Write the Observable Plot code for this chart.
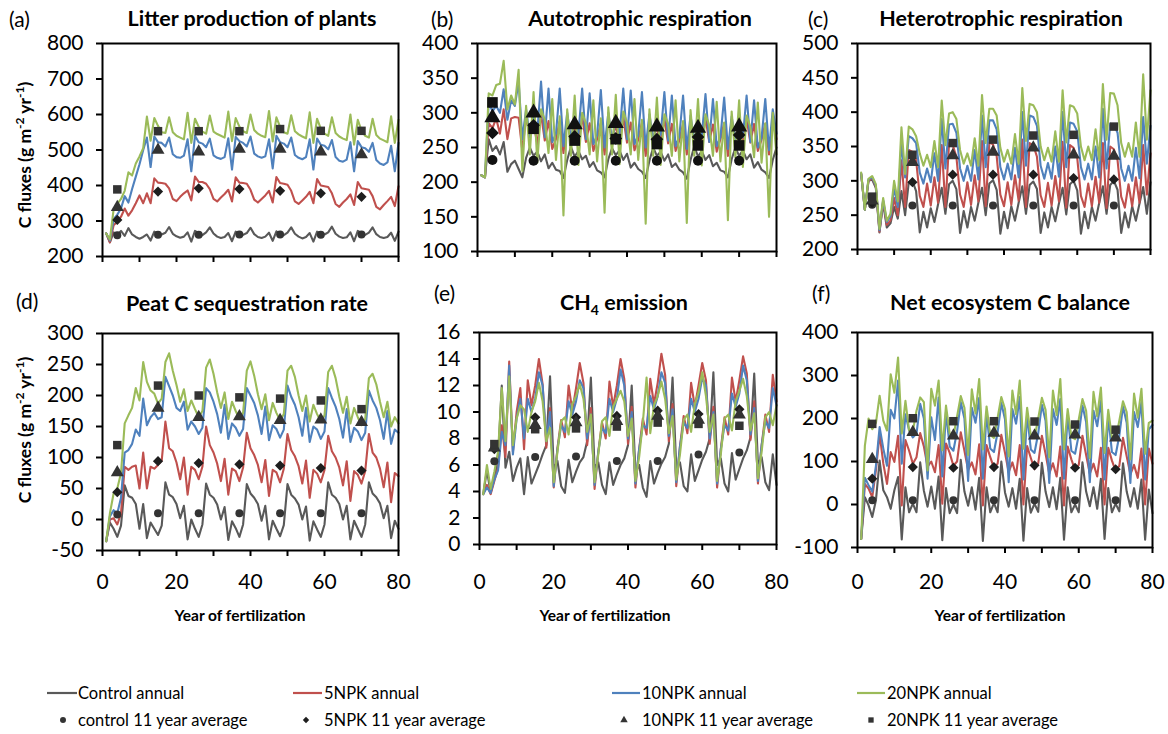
<!DOCTYPE html>
<html>
<head>
<meta charset="utf-8">
<script src="https://cdn.jsdelivr.net/npm/d3@7"></script>
<script src="https://cdn.jsdelivr.net/npm/@observablehq/plot@0.6"></script>
<style>
  body { margin: 0; background: #fff; }
  #fig { position: relative; width: 1168px; height: 734px; overflow: hidden; background: #fff; font-family: Lato, sans-serif; color: #000; }
  #fig svg { position: absolute; }
</style>
</head>
<body>
<div id="fig"></div>
<script>
// ---------- categories / ticks ----------
const years = d3.range(1, 81);
const avgYears = [4, 15, 26, 37, 48, 59, 70];
const xTicks = [0, 10, 20, 30, 40, 50, 60, 70, 80];
const seriesNames = ["Control annual", "5NPK annual", "10NPK annual", "20NPK annual"];
const avgNames = ["control 11 year average", "5NPK 11 year average", "10NPK 11 year average", "20NPK 11 year average"];

// ---------- (a) Litter production of plants ----------
const aTicks = [200, 300, 400, 500, 600, 700, 800];
const aControl = [265,
240,268,262,272,258,280,262,255,250,255,262,
245,270,264,262,267,283,264,257,253,256,268,
242,272,266,260,268,282,265,256,252,255,266,
243,270,265,261,266,281,263,255,252,256,267,
244,271,264,260,267,282,264,256,251,255,266,
242,270,265,262,268,284,264,256,252,254,268,
243,272,266,261,267,282,263,255,252,255,267,
244,270];
const a5NPK = [265,
240,288,298,312,335,315,330,350,372,350,378,
350,420,408,407,405,392,362,356,368,378,386,
358,425,410,410,405,390,362,355,366,376,388,
355,423,408,407,405,388,360,352,362,372,385,
352,424,407,405,402,385,355,348,358,368,382,
350,418,400,398,396,378,348,340,352,362,375,
345,410,392,390,388,370,340,333,345,356,368,
342,398];
const a10NPK = [265,
245,305,318,335,370,352,390,425,460,500,535,
452,538,522,520,510,535,488,480,478,484,530,
440,540,522,518,508,532,485,478,475,480,533,
445,537,525,520,510,538,490,482,478,482,530,
448,540,522,518,508,535,486,478,474,480,530,
445,532,515,512,502,528,480,470,467,473,522,
440,525,508,505,495,520,472,462,458,465,512,
440,520];
const a20NPK = [265,
248,332,348,362,385,437,428,462,482,505,594,
526,590,568,550,548,592,550,540,535,530,605,
520,588,565,552,546,597,552,545,540,535,608,
525,590,566,553,548,600,556,546,540,536,610,
524,592,565,550,546,598,553,544,538,533,606,
520,588,560,546,540,592,548,538,532,528,600,
515,585,555,540,535,588,542,532,527,522,595,
520,585];
const aAvgControl = [260, 261, 261, 262, 262, 261, 262];
const aAvg5 = [303, 383, 392, 390, 385, 378, 368];
const aAvg10 = [339, 500, 495, 503, 503, 495, 487];
const aAvg20 = [389, 553, 553, 553, 559, 554, 554];

// ---------- (b) Autotrophic respiration ----------
const bTicks = [100, 150, 200, 250, 300, 350, 400];
const bControl = [210,
207,262,245,252,240,258,215,226,231,219,207,
235,250,238,244,230,240,220,228,218,216,206,
232,251,237,245,233,238,222,229,217,214,207,
233,249,239,246,232,241,221,228,219,215,206,
231,250,238,244,231,240,222,227,218,214,205,
232,252,237,245,232,239,223,228,217,215,207,
233,250,238,246,233,240,221,229,218,214,206,
232,250];
const b5NPK = [210,
207,285,278,292,270,305,262,292,294,293,245,
295,265,285,255,298,260,288,248,262,288,242,
290,262,282,256,295,258,285,245,262,285,240,
292,260,283,254,294,257,286,246,261,286,238,
290,262,280,255,292,256,284,245,260,284,240,
288,260,282,254,293,258,283,244,262,285,238,
290,262,281,255,292,257,284,245,261,284,240,
290,262];
const b10NPK = [210,
207,315,302,310,300,334,290,318,310,345,262,
305,265,298,272,345,265,335,258,270,335,252,
300,262,292,270,335,262,328,255,268,333,250,
300,260,290,268,335,262,332,255,268,330,250,
298,260,290,268,330,260,325,252,266,325,248,
296,258,288,266,327,258,320,252,265,322,248,
295,258,288,265,325,258,318,250,264,320,246,
305,270];
const b20NPK = [210,
207,328,325,340,342,375,305,325,312,362,216,
310,240,330,228,305,290,242,320,232,295,152,
305,238,325,225,300,285,240,318,230,292,156,
308,240,326,226,302,286,240,320,232,290,140,
305,238,322,225,298,284,238,318,230,288,141,
304,238,320,224,298,282,238,316,230,286,145,
302,236,318,222,296,280,236,315,228,285,150,
300,240];
const bAvgControl = [232, 231, 231, 231, 231, 231, 231];
const bAvg5 = [271, 282, 266, 263, 262, 265, 268];
const bAvg10 = [293, 300, 283, 285, 280, 278, 280];
const bAvg20 = [315, 277, 260, 262, 255, 253, 253];

// ---------- (c) Heterotrophic respiration ----------
const cTicks = [200, 250, 300, 350, 400, 450, 500];
const cControl = [310,
258,300,302,290,225,268,232,238,262,245,285,
250,298,300,285,225,255,232,260,240,266,290,
252,295,300,288,224,256,232,262,242,268,290,
250,296,301,287,223,255,231,263,242,268,292,
252,294,299,288,224,254,232,262,241,267,290,
251,295,300,286,223,255,231,262,242,268,292,
252,294,300,287,224,254,232,263,242,267,291,
252,298];
const c5NPK = [310,
258,300,304,292,226,270,236,242,275,250,330,
262,345,342,330,278,262,296,264,305,268,352,
262,355,352,335,280,262,298,265,308,270,358,
263,356,353,336,280,263,298,265,308,271,360,
262,355,352,335,279,262,297,264,307,270,357,
261,352,348,333,278,262,296,263,306,268,355,
260,350,346,330,277,261,295,263,305,268,352,
280,340];
const c10NPK = [311,
258,302,305,293,228,272,240,248,290,262,355,
305,365,362,355,312,296,318,298,340,300,390,
318,382,383,370,318,300,322,300,345,302,395,
320,388,388,375,320,302,325,302,348,305,400,
322,395,393,380,322,303,326,303,350,306,400,
320,385,383,372,320,302,325,302,350,305,405,
318,383,382,370,318,300,322,300,348,304,393,
325,380];
const c20NPK = [312,
258,303,307,295,230,275,242,252,300,270,378,
310,379,375,365,340,322,338,320,358,320,417,
352,398,400,390,345,325,340,322,362,322,425,
355,405,405,395,348,328,345,325,368,325,435,
358,412,410,400,350,330,348,328,372,328,432,
356,410,408,398,350,330,350,330,375,330,441,
360,428,427,410,355,335,355,335,385,335,455,
360,432];
const cAvgControl = [265, 264, 264, 264, 264, 264, 264];
const cAvg5 = [268, 298, 309, 309, 309, 304, 302];
const cAvg10 = [271, 327, 337, 342, 348, 338, 336];
const cAvg20 = [277, 338, 355, 360, 366, 367, 379];

// ---------- (d) Peat C sequestration rate ----------
const dTicks = [-50, 0, 50, 100, 150, 200, 250, 300];
const dControl = [-35,
-5,-15,-28,-10,55,38,35,25,-15,25,-30,
-5,-15,-25,-10,60,40,36,25,2,22,-32,
0,-15,-28,-8,58,40,35,24,0,20,-33,
-3,-14,-28,-8,57,42,35,25,-2,22,-32,
-2,-15,-27,-9,57,40,34,24,0,21,-34,
-3,-16,-28,-8,60,40,35,25,0,22,-32,
-2,-15,-28,-8,60,42,36,26,2,22,-30,
-2,-15];
const d5NPK = [-35,
0,2,-8,10,85,80,85,87,50,108,50,
85,82,88,95,158,115,110,92,65,100,40,
85,80,65,85,150,120,108,90,62,98,40,
82,78,62,84,140,115,104,88,60,96,38,
80,76,60,82,138,112,102,86,58,95,35,
80,74,60,80,135,110,100,84,55,94,30,
78,72,58,78,138,108,100,82,52,92,28,
75,70];
const d10NPK = [-35,
5,15,10,35,108,112,122,145,135,195,152,
165,172,162,165,230,215,200,180,175,190,145,
158,150,138,148,212,205,190,170,140,185,130,
155,148,135,146,212,200,188,168,138,182,128,
152,146,132,145,216,198,185,165,135,180,125,
150,145,130,142,212,196,182,162,132,178,125,
148,142,128,140,208,192,180,160,130,175,122,
145,140];
const d20NPK = [-35,
10,42,50,75,155,168,180,212,192,254,222,
208,203,187,195,254,268,240,217,190,210,175,
192,178,165,175,245,258,235,205,180,205,162,
190,175,162,172,240,255,232,202,178,202,160,
188,172,160,170,240,248,230,200,175,200,158,
185,170,158,168,238,248,228,198,172,198,155,
180,165,152,162,228,235,218,190,165,190,150,
165,155];
const dAvgControl = [8, 10, 10, 10, 10, 10, 10];
const dAvg5 = [44, 94, 91, 89, 87, 83, 79];
const dAvg10 = [76, 180, 165, 166, 160, 161, 157];
const dAvg20 = [120, 216, 200, 197, 195, 192, 178];

// ---------- (e) CH4 emission ----------
const eTicks = [0, 2, 4, 6, 8, 10, 12, 14, 16];
const eControl = [3.8,
5.6,3.9,5.0,6.5,12.0,5.8,7.0,4.8,5.8,6.5,3.8,
6.6,4.6,5.3,6.0,6.8,7.5,12.7,5.7,6.3,4.4,3.9,
6.4,4.7,5.5,6.2,6.6,7.8,12.6,5.8,6.2,4.5,3.8,
6.2,4.5,5.3,6.0,6.5,7.5,12.0,5.5,6.0,4.3,3.6,
6.3,4.6,5.4,6.1,6.6,7.6,12.6,5.8,6.2,4.4,4.0,
6.8,4.8,5.6,6.4,7.0,8.0,13.0,6.0,6.5,4.6,4.0,
6.9,4.9,5.7,6.5,7.1,8.1,12.9,6.1,6.6,4.7,4.1,
6.8,4.5];
const e5NPK = [3.8,
4.5,3.8,4.8,5.8,9.0,6.6,13.8,7.0,10.0,11.8,7.2,
12.4,10.5,12.0,14.0,12.1,7.3,10.3,4.3,7.3,9.4,8.1,
12.0,10.1,11.8,13.7,12.2,7.5,10.3,4.2,7.0,9.2,8.0,
12.3,10.4,12.0,14.0,12.5,7.6,10.4,4.3,7.2,9.5,8.3,
12.5,10.6,12.2,14.4,12.8,7.8,10.6,4.4,7.4,9.7,8.4,
12.2,10.4,12.0,13.7,12.4,7.6,10.4,4.3,7.2,9.6,8.3,
12.6,10.8,12.4,14.2,12.9,7.9,10.8,4.6,7.5,9.8,8.5,
12.8,10.8];
const e10NPK = [3.8,
4.3,3.9,4.9,5.6,8.5,7.5,13.5,6.8,9.5,11.0,8.0,
11.0,10.0,11.0,13.0,12.0,7.8,10.0,4.4,7.2,9.0,8.5,
10.8,9.8,10.8,12.4,11.8,8.0,9.8,4.5,7.0,8.8,8.4,
11.0,10.0,11.0,13.2,12.0,8.0,10.0,4.6,7.2,9.0,8.8,
11.2,10.2,11.2,13.0,12.2,8.2,10.2,4.7,7.4,9.2,8.8,
11.0,10.0,11.0,12.6,12.0,8.0,10.0,4.6,7.2,9.0,8.6,
11.4,10.4,11.4,13.5,12.4,8.3,10.3,4.8,7.5,9.3,8.8,
11.8,10.5];
const e20NPK = [3.8,
6.0,4.2,5.5,7.0,11.8,7.8,12.7,7.5,9.5,10.5,10.2,
8.5,10.0,10.8,12.2,10.8,7.8,8.8,4.7,7.0,9.3,9.6,
8.3,10.6,11.2,12.1,11.0,8.5,9.8,4.7,6.8,9.3,9.6,
8.2,10.4,11.0,11.6,10.8,8.2,9.5,4.8,6.6,9.2,12.6,
8.4,10.5,11.2,12.3,11.0,8.4,9.7,4.9,6.8,9.4,9.8,
8.5,10.6,11.5,13.0,11.2,8.5,9.8,4.8,6.8,9.5,9.8,
8.6,10.8,11.6,12.5,11.2,8.6,9.9,5.0,7.0,9.6,10.0,
9.0,10.5];
const eAvgControl = [6.28, 6.6, 6.65, 6.3, 6.3, 6.8, 6.95];
const eAvg5 = [7.2, 9.6, 9.6, 9.7, 10.1, 9.85, 10.2];
const eAvg10 = [7.3, 9.0, 9.2, 9.3, 9.7, 9.4, 9.8];
const eAvg20 = [7.58, 8.7, 8.76, 8.9, 9.2, 9.1, 8.96];

// ---------- (f) Net ecosystem C balance ----------
const fTicks = [-100, 0, 100, 200, 300, 400];
const fControl = [-80,
17,-2,-29,10,102,33,17,-10,33,64,-81,
40,-18,2,-18,98,32,-5,42,-10,65,-83,
38,-20,0,-20,104,30,-3,40,-12,62,-85,
40,-18,3,-18,100,28,-5,38,-10,60,-84,
38,-19,2,-17,97,30,-6,40,-11,62,-82,
40,-18,0,-18,98,30,-4,40,-10,60,-80,
38,-18,2,-16,96,30,-5,38,-10,58,-82,
35,-20];
const f5NPK = [-80,
48,37,17,80,164,95,48,122,99,160,-2,
150,125,95,110,166,135,88,100,75,138,2,
142,120,90,100,168,125,80,98,70,140,-2,
138,110,85,95,162,120,75,98,68,138,0,
136,108,82,95,160,118,72,96,65,135,-2,
135,105,80,92,160,115,72,95,65,132,0,
132,102,78,90,155,112,70,92,62,130,0,
130,95];
const f10NPK = [-80,
62,45,30,90,180,130,90,220,200,288,95,
210,172,156,165,234,200,60,203,150,249,65,
215,135,125,170,238,200,55,225,190,248,60,
212,130,122,168,236,198,52,222,188,250,58,
210,128,120,165,232,195,50,222,185,245,60,
208,125,118,162,230,192,52,218,182,242,58,
205,122,115,160,228,190,50,215,180,238,58,
175,185];
const f20NPK = [-80,
137,200,175,190,253,195,172,303,260,342,165,
241,172,170,218,249,238,79,269,230,288,126,
230,165,158,205,252,225,115,268,212,292,128,
228,162,155,202,250,222,112,265,210,288,130,
225,160,155,200,248,220,110,265,208,292,128,
222,158,152,198,245,218,108,262,205,272,120,
220,155,150,195,240,215,105,258,202,269,118,
190,195];
const fAvgControl = [10, 10, 10, 10, 10, 10, 10];
const fAvg5 = [60, 87, 85.5, 87, 91, 85.5, 82];
const fAvg10 = [105, 168, 160, 166, 160, 162, 155];
const fAvg20 = [187.5, 200.6, 193.7, 193.7, 193, 186, 174];

// ---------- styling ----------
const lineColors = ["#595959", "#C0504D", "#4F81BD", "#9BBB59"];
const markSymbols = ["circle", "diamond2", "triangle2", "square2"];
const d3Symbols = [d3.symbolCircle, d3.symbolDiamond2, d3.symbolTriangle2, d3.symbolSquare2];
const markColors = ["#333333", "#1e1e1e", "#333333", "#333333"];
const markR = [4, 4.6, 6.2, 5.4];

const panels = [
  {lines: [aControl, a5NPK, a10NPK, a20NPK], avgs: [aAvgControl, aAvg5, aAvg10, aAvg20], ticks: aTicks, x0: 102, x1: 398, y0: 43, y1: 256, bottom: false},
  {lines: [bControl, b5NPK, b10NPK, b20NPK], avgs: [bAvgControl, bAvg5, bAvg10, bAvg20], ticks: bTicks, x0: 477, x1: 776, y0: 43, y1: 251, bottom: false, big: true},
  {lines: [cControl, c5NPK, c10NPK, c20NPK], avgs: [cAvgControl, cAvg5, cAvg10, cAvg20], ticks: cTicks, x0: 857, x1: 1150, y0: 43, y1: 249, bottom: false},
  {lines: [dControl, d5NPK, d10NPK, d20NPK], avgs: [dAvgControl, dAvg5, dAvg10, dAvg20], ticks: dTicks, x0: 102, x1: 398, y0: 333, y1: 550, bottom: true},
  {lines: [eControl, e5NPK, e10NPK, e20NPK], avgs: [eAvgControl, eAvg5, eAvg10, eAvg20], ticks: eTicks, x0: 479, x1: 776, y0: 332, y1: 544, bottom: true},
  {lines: [fControl, f5NPK, f10NPK, f20NPK], avgs: [fAvgControl, fAvg5, fAvg10, fAvg20], ticks: fTicks, x0: 857, x1: 1152, y0: 332, y1: 547, bottom: true}
];

const fig = document.getElementById("fig");
const labelTopY = 574; // top of x tick labels

for (const p of panels) {
  const mL = 70, mR = 8, mT = 8, mB = 52;
  const W = p.x1 - p.x0 + mL + mR;
  const H = p.y1 - p.y0 + mT + mB;
  const lineMarks = p.lines.map((vals, j) =>
    Plot.line(vals.map((v, i) => ({year: years[i], v})), {x: "year", y: "v", stroke: lineColors[j], strokeWidth: 2.1})
  );
  const dotMarks = p.avgs.map((vals, j) =>
    Plot.dot(vals.map((v, i) => ({year: avgYears[i], v})), {x: "year", y: "v", symbol: markSymbols[j], r: markR[j] * (p.big ? 1.25 : 1), fill: p.big ? "#111" : markColors[j], stroke: "none"})
  );
  const svg = Plot.plot({
    width: W, height: H,
    marginLeft: mL, marginRight: mR, marginTop: mT, marginBottom: mB,
    x: {domain: [0, 80]},
    y: {domain: [p.ticks[0], p.ticks[p.ticks.length - 1]]},
    style: {fontFamily: "Lato, sans-serif", fontSize: "21px", color: "#000", background: "transparent", overflow: "visible"},
    marks: [
      Plot.axisY({ticks: p.ticks, tickSize: 6, tickPadding: 13, strokeWidth: 2, tickFormat: d => String(d), label: null}),
      Plot.axisX({ticks: xTicks, tickSize: 6, tickPadding: p.bottom ? (labelTopY - p.y1 - 6) : 3, strokeWidth: 2,
                  tickFormat: p.bottom ? (d => (d % 20 === 0 ? String(d) : "")) : (() => ""), label: null}),
      ...lineMarks,
      ...dotMarks,
      Plot.frame({stroke: "#000", strokeWidth: 2})
    ]
  });
  svg.style.left = (p.x0 - mL) + "px";
  svg.style.top = (p.y0 - mT) + "px";
  fig.appendChild(svg);
}

// ---------- text overlay: titles, panel letters, axis titles ----------
const NS = "http://www.w3.org/2000/svg";
const ov = document.createElementNS(NS, "svg");
ov.setAttribute("width", 1168); ov.setAttribute("height", 734);
ov.style.left = "0px"; ov.style.top = "0px"; ov.style.pointerEvents = "none";
ov.setAttribute("font-family", "Lato, sans-serif");
fig.appendChild(ov);

function txt(parent, x, y, html, opts = {}) {
  const t = document.createElementNS(NS, "text");
  t.setAttribute("x", x); t.setAttribute("y", y);
  t.setAttribute("font-size", opts.size || 20);
  if (opts.bold) t.setAttribute("font-weight", "bold");
  t.setAttribute("text-anchor", opts.anchor || "start");
  t.setAttribute("fill", "#000");
  if (opts.transform) t.setAttribute("transform", opts.transform);
  t.innerHTML = html;
  parent.appendChild(t);
  return t;
}

const panelLetters = ["(a)", "(b)", "(c)", "(d)", "(e)", "(f)"];
const panelTitles = ["Litter production of plants", "Autotrophic respiration", "Heterotrophic respiration",
                     "Peat C sequestration rate", "CH<tspan dy='5' font-size='14'>4</tspan><tspan dy='-5'> emission</tspan>", "Net ecosystem C balance"];
const letterPos = [[9, 27], [431, 27], [808, 27], [16, 309], [434, 301], [812, 301]];
const titlePos = [[252, 26], [640, 26], [1001, 26], [247, 311], [624, 310], [1010, 310]];
panelLetters.forEach((s, i) => txt(ov, letterPos[i][0], letterPos[i][1], s, {size: 21}));
panelTitles.forEach((s, i) => txt(ov, titlePos[i][0], titlePos[i][1], s, {size: 21.5, bold: true, anchor: "middle"}));

const yLab = "C fluxes (g m<tspan dy='-7' font-size='12'>-2</tspan><tspan dy='7'> yr</tspan><tspan dy='-7' font-size='12'>-1</tspan><tspan dy='7'>)</tspan>";
txt(ov, 0, 0, yLab, {size: 17.5, bold: true, anchor: "middle", transform: "translate(31,155) rotate(-90)"});
txt(ov, 0, 0, yLab, {size: 17.5, bold: true, anchor: "middle", transform: "translate(31,430) rotate(-90)"});

[[240, 621], [605, 621], [1000, 621]].forEach(([x, y]) => txt(ov, x, y, "Year of fertilization", {size: 15.5, bold: true, anchor: "middle"}));

// ---------- legend ----------
const lg = document.createElementNS(NS, "svg");
lg.setAttribute("width", 1168); lg.setAttribute("height", 64);
lg.style.left = "0px"; lg.style.top = "670px";
lg.setAttribute("font-family", "Lato, sans-serif");
fig.appendChild(lg);
const legendLineX = [[47, 77], [293, 322], [612, 640], [857, 885]];
const legendTextX = [78, 324, 642, 887];
const legendMarkX = [63, 306, 624, 871];
const row1 = 23, row2 = 50;
const legendSymSize = [28, 26, 40, 36];
for (let j = 0; j < 4; j++) {
  const l = document.createElementNS(NS, "line");
  l.setAttribute("x1", legendLineX[j][0]); l.setAttribute("x2", legendLineX[j][1]);
  l.setAttribute("y1", row1); l.setAttribute("y2", row1);
  l.setAttribute("stroke", lineColors[j]); l.setAttribute("stroke-width", 2.2);
  lg.appendChild(l);
  txt(lg, legendTextX[j], row1 + 6, seriesNames[j], {size: 16.5});
  const pth = document.createElementNS(NS, "path");
  pth.setAttribute("d", d3.symbol(d3Symbols[j], legendSymSize[j])());
  pth.setAttribute("transform", `translate(${legendMarkX[j]},${row2})`);
  pth.setAttribute("fill", markColors[j]);
  lg.appendChild(pth);
  txt(lg, legendTextX[j], row2 + 6, avgNames[j], {size: 16.5});
}
</script>
</body>
</html>
